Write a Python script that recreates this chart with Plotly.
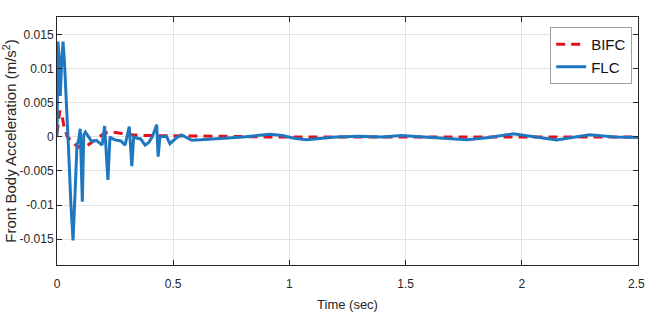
import plotly.graph_objects as go

# FLC series (time in s, acceleration in m/s^2)
flc_t = [0, 0.002, 0.004, 0.008, 0.014, 0.020, 0.026, 0.032, 0.040, 0.050, 0.060, 0.069,
         0.078, 0.086, 0.093, 0.100, 0.109, 0.115, 0.122, 0.130, 0.150, 0.170, 0.194, 0.205,
         0.219, 0.228, 0.240, 0.257, 0.275, 0.293, 0.311, 0.322, 0.330, 0.345, 0.360, 0.379,
         0.395, 0.410, 0.429, 0.435, 0.443, 0.460, 0.472, 0.486, 0.500, 0.515, 0.536, 0.555,
         0.580, 0.620, 0.680, 0.750, 0.800, 0.860, 0.917, 0.970, 1.020, 1.074, 1.130, 1.200,
         1.300, 1.400, 1.480, 1.560, 1.650, 1.763, 1.860, 1.963, 2.060, 2.150, 2.230, 2.293,
         2.400, 2.500]
flc_v = [0.0, 0.008, 0.014, 0.012, 0.006, 0.011, 0.014, 0.011, 0.004, -0.002, -0.010, -0.0152,
         -0.008, -0.0012, -0.0005, 0.0012, -0.0095, 0.0003, 0.0007, 0.0003, -0.0007, -0.0005, -0.0012, 0.0016,
         -0.0063, 0.0, -0.0003, -0.0005, -0.0006, -0.0012, 0.0015, -0.0043, 0.0, -0.0002, -0.0003, -0.0012,
         -0.0008, 0.0, 0.0018, -0.0029, 0.0, 0.0001, 0.0, -0.0010, -0.0006, -0.0001, 0.0003, -0.0001,
         -0.0005, -0.0004, -0.0003, -0.0001, 0.0, 0.0002, 0.0004, 0.0002, -0.0002, -0.0004, -0.0002, 0.0,
         0.0001, 0.0, 0.0002, 0.0, -0.0002, -0.0004, -0.0001, 0.00045, 0.0, -0.00045, 0.0, 0.0003,
         0.0, -0.0001]

# BIFC series
bifc_t = [0, 0.005, 0.012, 0.020, 0.030, 0.045, 0.060, 0.080, 0.100, 0.120, 0.150, 0.180,
          0.210, 0.240, 0.280, 0.320, 0.380, 0.450, 0.550, 0.700, 0.900, 1.2, 1.5, 1.8, 2.1, 2.5]
bifc_v = [0.0005, 0.002, 0.0038, 0.0035, 0.0015, 0.0, -0.0005, -0.0012, -0.0016, -0.0015, -0.0008, 0.0,
          0.0006, 0.0007, 0.0005, 0.0003, 0.0002, 0.0002, 0.0001, 0.0001, 0.0, 0.0, 0.0, 0.0, 0.0, 0.0]

x_ticks = [0, 0.5, 1, 1.5, 2, 2.5]
# trailing no-break space nudges the last label left so it stays inside the window
x_ticktext = ["0", "0.5", "1", "1.5", "2", "2.5\u00a0"]
y_ticks = [0.015, 0.01, 0.005, 0, -0.005, -0.01, -0.015]
y_ticktext = ["0.015", "0.01", "0.005", "0", "-0.005", "-0.01", "-0.015"]

fig = go.Figure()
fig.add_trace(go.Scatter(x=bifc_t, y=bifc_v, mode="lines", name="BIFC",
                         line=dict(color="#e3101b", width=3, dash="9px,6px")))
fig.add_trace(go.Scatter(x=flc_t, y=flc_v, mode="lines", name="FLC",
                         line=dict(color="#1f77c0", width=3)))

font_main = "Liberation Sans, Arial, sans-serif"
axis_common = dict(showline=True, linecolor="#262626", linewidth=1, mirror="ticks",
                   ticks="inside", ticklen=5, tickcolor="#262626",
                   showgrid=True, gridcolor="#e3e3e3", gridwidth=1, zeroline=False,
                   automargin=False, ticklabeloverflow="allow",
                   tickfont=dict(family=font_main, size=12, color="#262626"))

fig.update_layout(
    width=645, height=327,
    margin=dict(l=57, r=7, t=17, b=62),
    paper_bgcolor="white", plot_bgcolor="white",
    showlegend=True,
    legend=dict(x=0.99, y=0.96, xanchor="right", yanchor="top",
                bgcolor="white", bordercolor="#a0a0a0", borderwidth=1,
                font=dict(family=font_main, size=15, color="#111111"),
                itemwidth=30, tracegroupgap=0),
    xaxis=dict(range=[0, 2.5], tickvals=x_ticks, ticktext=x_ticktext, ticklabelstandoff=8,
               title=dict(text="Time (sec)", font=dict(family=font_main, size=13, color="#262626"),
                          standoff=9),
               **axis_common),
    yaxis=dict(range=[-0.0188, 0.0176], tickvals=y_ticks, ticktext=y_ticktext,
               title=dict(text="Front Body Acceleration (m/s<sup>2</sup>)",
                          font=dict(family=font_main, size=15, color="#262626"),
                          standoff=0),
               **axis_common),
)

# remove the page's default 8px body margin so the figure fills the window exactly
fig.write_html("out.html", config={"displayModeBar": False},
               post_script="document.body.style.margin='0px';")
